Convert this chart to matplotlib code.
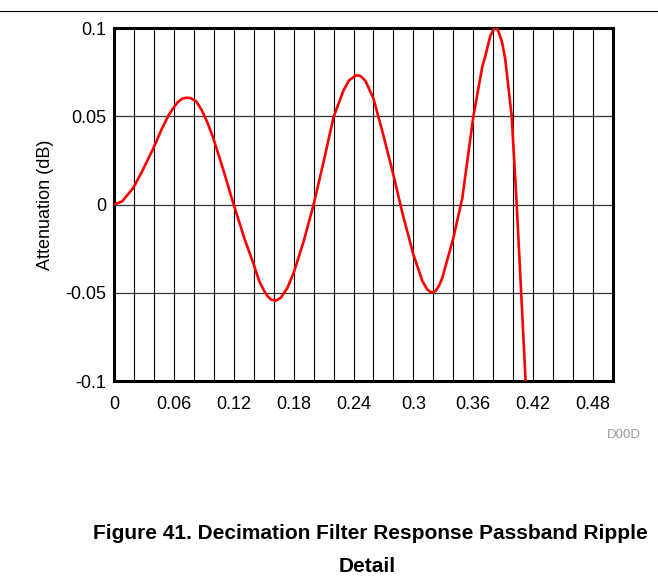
# Decimation filter passband ripple detail (attenuation vs normalized frequency)

import matplotlib.pyplot as plt
from matplotlib.lines import Line2D

plt.rcParams['font.family'] = ['Liberation Sans', 'DejaVu Sans']

freq = [0, 0.008, 0.019, 0.028, 0.039, 0.048, 0.055, 0.059, 0.0633, 0.0683,
        0.0727, 0.0767, 0.0823, 0.088, 0.0933, 0.099, 0.108, 0.119, 0.1305, 0.14,
        0.1455, 0.1505, 0.1538, 0.1572, 0.1622, 0.1672, 0.1705, 0.1738, 0.18, 0.19,
        0.2, 0.21, 0.22, 0.23, 0.2355, 0.24, 0.2422, 0.245, 0.2472, 0.252,
        0.26, 0.269, 0.28, 0.289, 0.30, 0.309, 0.3138, 0.3172, 0.32, 0.3222,
        0.3255, 0.329, 0.34, 0.349, 0.36, 0.3655, 0.369, 0.3722, 0.3755, 0.3772,
        0.3805, 0.382, 0.3838, 0.3855, 0.3888, 0.392, 0.3985, 0.4035, 0.408, 0.4125]
atten = [0, 0.0017, 0.0092, 0.0186, 0.0314, 0.043, 0.0509, 0.0543, 0.0577, 0.060,
         0.0605, 0.0603, 0.0585, 0.0534, 0.0468, 0.0383, 0.0224, 0.0017, -0.019, -0.034,
         -0.0434, -0.049, -0.0519, -0.0538, -0.0545, -0.0528, -0.050, -0.0472, -0.0387, -0.0209,
         0, 0.0242, 0.0496, 0.0647, 0.0703, 0.0722, 0.0731, 0.0731, 0.0727, 0.070,
         0.060, 0.0412, 0.0167, -0.0049, -0.0284, -0.0434, -0.0481, -0.0496, -0.0497, -0.049,
         -0.0462, -0.0415, -0.019, 0.0036, 0.0496, 0.067, 0.078, 0.0844, 0.092, 0.0957,
         0.0994, 0.1005, 0.0998, 0.0976, 0.092, 0.0825, 0.05, 0, -0.05, -0.101]

xticks = [0, 0.06, 0.12, 0.18, 0.24, 0.3, 0.36, 0.42, 0.48]
xticklabels = ['0', '0.06', '0.12', '0.18', '0.24', '0.3', '0.36', '0.42', '0.48']
yticks = [-0.1, -0.05, 0, 0.05, 0.1]
yticklabels = ['-0.1', '-0.05', '0', '0.05', '0.1']

fig = plt.figure(figsize=(6.58, 5.86), dpi=100)
ax = fig.add_axes([0.1733, 0.3498, 0.7583, 0.6024])

# grid: vertical every 0.02, horizontal every 0.05
for i in range(1, 25):
    ax.axvline(i * 0.02, color='black', lw=0.8, zorder=1)
for v in [-0.05, 0, 0.05]:
    ax.axhline(v, color='#333333', lw=0.9, zorder=1)

ax.plot(freq, atten, color='red', lw=1.9, zorder=3, solid_joinstyle='round')

ax.set_xlim(0, 0.5)
ax.set_ylim(-0.1, 0.1)
ax.set_xticks(xticks)
ax.set_xticklabels(xticklabels)
ax.set_yticks(yticks)
ax.set_yticklabels(yticklabels)
ax.tick_params(length=0, labelsize=13)
ax.tick_params(axis='x', pad=10.5)
ax.tick_params(axis='y', pad=5.5)
for s in ax.spines.values():
    s.set_linewidth(2.2)
ax.set_ylabel('Attenuation (dB)', fontsize=13, labelpad=8)

fig.text(0.974, 0.2577, 'D00D', color='#999999', fontsize=9.5, ha='right', va='center')

fig.text(0.5623, 0.0802, 'Figure 41. Decimation Filter Response Passband Ripple',
         fontsize=15, fontweight='bold', ha='center', va='baseline')
fig.text(0.5577, 0.0239, 'Detail',
         fontsize=15, fontweight='bold', ha='center', va='baseline')

# rule across top of page
fig.add_artist(Line2D([0, 1], [0.982, 0.982], color='black', lw=0.8))

fig.savefig('out.png', dpi=100)
